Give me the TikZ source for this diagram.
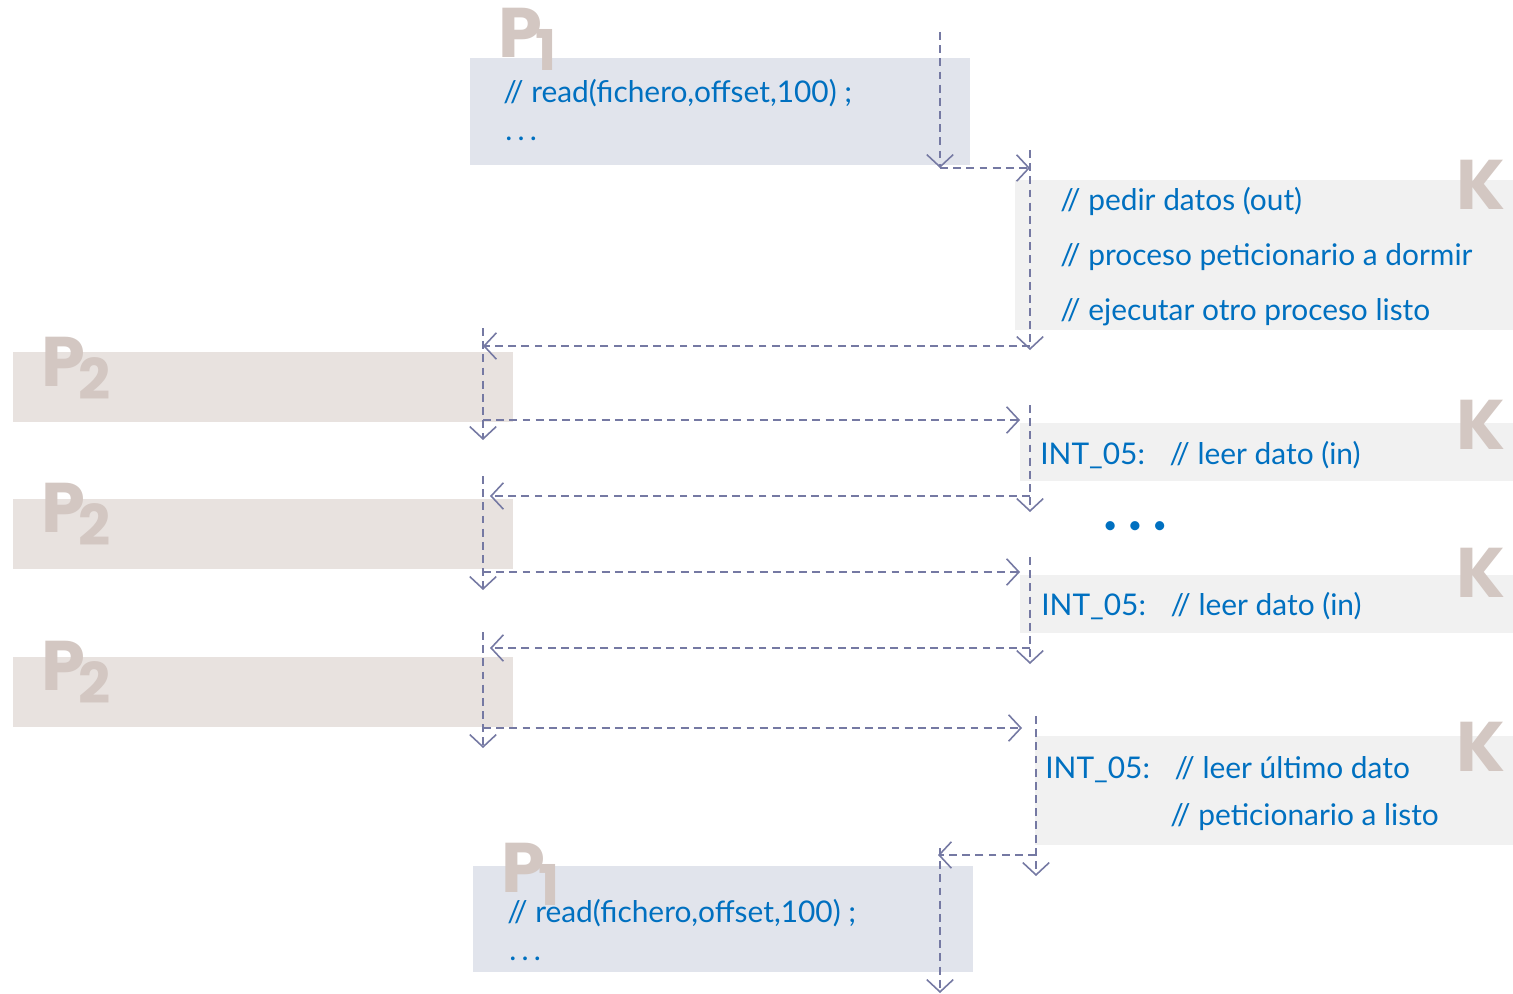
\documentclass[tikz,border=0pt]{standalone}
\usepackage{fontspec}
\setmainfont{Lato}
\newfontfamily\fuenterotulo{Poppins}
\usetikzlibrary{arrows.meta}
\definecolor{azulP}{HTML}{E1E4EC}
\definecolor{grisK}{HTML}{F1F1F1}
\definecolor{rosaP}{HTML}{E8E2DF}
\definecolor{beige}{HTML}{D3C7C2}
\definecolor{texto}{HTML}{0070C0}
\definecolor{flecha}{HTML}{7579A3}
\newcommand{\subrot}[1]{\kern-4pt\raisebox{-0.18em}{\fontsize{32}{32}\selectfont#1}}
\newcommand{\puntitos}{.\kern3pt.\kern3pt.}
\tikzset{
  caja/.style={rectangle, inner sep=0pt, anchor=north west, minimum width=10cm},
  cajaP1/.style={caja, fill=azulP, minimum height=2.14cm},
  cajaP2/.style={caja, fill=rosaP, minimum height=1.4cm},
  cajaK/.style={caja, fill=grisK},
  linea/.style={anchor=base west, inner sep=0pt, text=texto,
    font=\fontsize{17}{20}\selectfont},
  rotulo/.style={anchor=north west, inner sep=0pt, text=beige,
    font=\fuenterotulo\bfseries\fontsize{40}{40}\selectfont},
  salto/.style={-{Straight Barb[length=7pt,width=15pt]}, flecha,
    line width=0.9pt, dash pattern=on 4.5pt off 3pt},
}

\begin{document}
\begin{tikzpicture}[x=0.02cm, y=-0.02cm]
  \useasboundingbox (0,0) rectangle (1513,993);

  % bloques de proceso y de nucleo
  \node[cajaP1] (p1a) at (470,58) {};
  \node[cajaK, minimum width=9.96cm, minimum height=3cm] (k1) at (1015,180) {};
  \node[cajaP2] (p2a) at (13,352) {};
  \node[cajaK, minimum width=9.86cm, minimum height=1.16cm] (k2) at (1020,423) {};
  \node[cajaP2] (p2b) at (13,499) {};
  \node[cajaK, minimum width=9.86cm, minimum height=1.16cm] (k3) at (1020,575) {};
  \node[cajaP2] (p2c) at (13,657) {};
  \node[cajaK, minimum width=9.56cm, minimum height=2.18cm] (k4) at (1035,736) {};
  \node[cajaP1, minimum height=2.12cm] (p1b) at (473,866) {};

  % rotulos
  \node[rotulo] (rp1a) at (498,8) {P\subrot{1}};
  \node[rotulo] (rk1)  at (1456,160) {K};
  \node[rotulo] (rp2a) at (41,337) {P\subrot{2}};
  \node[rotulo] (rk2)  at (1456,400) {K};
  \node[rotulo] (rp2b) at (41,483) {P\subrot{2}};
  \node[rotulo] (rk3)  at (1456,548) {K};
  \node[rotulo] (rp2c) at (41,641) {P\subrot{2}};
  \node[rotulo] (rk4)  at (1456,722) {K};
  \node[rotulo] (rp1b) at (501,843) {P\subrot{1}};

  % textos
  \node[linea] (t1) at (503,103) {// read(fichero,offset,100) ;};
  \node[linea] (t2) at (505,141) {\puntitos};
  \node[linea] (t3) at (1060,211) {// pedir datos (out)};
  \node[linea] (t4) at (1060,265) {// proceso peticionario a dormir};
  \node[linea] (t5) at (1060,320) {// ejecutar otro proceso listo};
  \node[linea] (t6) at (1040,464) {INT\_05:\hspace{14pt}// leer dato (in)};
  \node[linea] (t7) at (1041,615) {INT\_05:\hspace{14pt}// leer dato (in)};
  \node[linea] (t8) at (1045,778) {INT\_05:\hspace{14pt}// leer último dato};
  \node[linea] (t9) at (1170,825) {// peticionario a listo};
  \node[linea] (t10) at (507,922) {// read(fichero,offset,100) ;};
  \node[linea] (t11) at (509,960) {\puntitos};
  \node[text=texto, font=\fontsize{14}{14}\selectfont] (puntos) at (1135,528)
    {\textbullet\hspace{6pt}\textbullet\hspace{6pt}\textbullet};

  % puntos de los saltos
  \coordinate (a0) at (940,32);   \coordinate (a1) at (940,168);
  \coordinate (b0) at (1030,150); \coordinate (b1) at (1030,168);
  \coordinate (b2) at (1030,346); \coordinate (b3) at (1030,350);
  \coordinate (c0) at (483,328);  \coordinate (c1) at (483,346);
  \coordinate (c2) at (483,420);  \coordinate (c3) at (483,440);
  \coordinate (d0) at (1030,405); \coordinate (d1) at (1020,420);
  \coordinate (d2) at (1030,496); \coordinate (d3) at (1030,512);
  \coordinate (e0) at (483,476);  \coordinate (e1) at (490,496);
  \coordinate (e2) at (483,572);  \coordinate (e3) at (483,590);
  \coordinate (f0) at (1030,557); \coordinate (f1) at (1020,572);
  \coordinate (f2) at (1030,648); \coordinate (f3) at (1030,664);
  \coordinate (g0) at (483,632);  \coordinate (g1) at (490,648);
  \coordinate (g2) at (483,728);  \coordinate (g3) at (483,748);
  \coordinate (h0) at (1036,716); \coordinate (h1) at (1022,728);
  \coordinate (h2) at (1036,855); \coordinate (h3) at (1036,876);
  \coordinate (i0) at (940,848);  \coordinate (i1) at (938,855);
  \coordinate (i2) at (940,993);

  \draw[salto] (a0) -- (a1);
  \draw[salto] (a1) -- (b1);
  \draw[salto] (b0) -- (b3);
  \draw[salto] (b2) -- (c1);
  \draw[salto] (c0) -- (c3);
  \draw[salto] (c2) -- (d1);
  \draw[salto] (d0) -- (d3);
  \draw[salto] (d2) -- (e1);
  \draw[salto] (e0) -- (e3);
  \draw[salto] (e2) -- (f1);
  \draw[salto] (f0) -- (f3);
  \draw[salto] (f2) -- (g1);
  \draw[salto] (g0) -- (g3);
  \draw[salto] (g2) -- (h1);
  \draw[salto] (h0) -- (h3);
  \draw[salto] (h2) -- (i1);
  \draw[salto] (i0) -- (i2);
\end{tikzpicture}
\end{document}
